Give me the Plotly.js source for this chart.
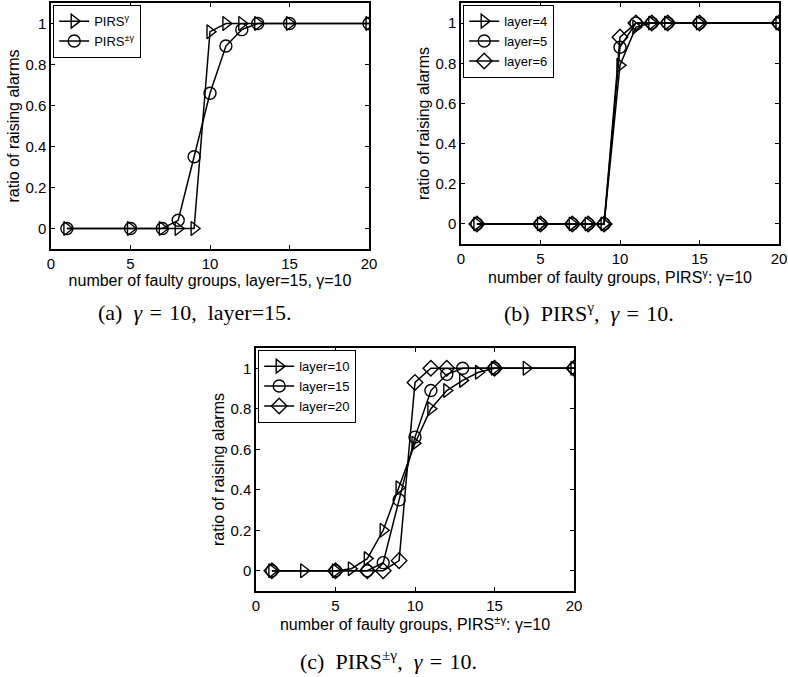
<!DOCTYPE html>
<html>
<head>
<meta charset="utf-8">
<script src="https://cdn.plot.ly/plotly-3.0.1.min.js"></script>
<style>html,body{margin:0;padding:0;background:#fff;}#chart{width:788px;height:677px;}</style>
</head>
<body>
<div id="chart"></div>
<script>
// ---- data ----
const xA = [1, 5, 7, 8, 9, 10, 11, 12, 13, 15, 20];
const aPirsGamma = [0, 0, 0, 0, 0, 0.96, 1, 1, 1, 1, 1];
const aPirsPM = [0, 0, 0, 0.04, 0.35, 0.66, 0.89, 0.97, 1, 1, 1];

const xB = [1, 5, 7, 8, 9, 10, 11, 12, 13, 15, 20];
const bLayer4 = [0, 0, 0, 0, 0, 0.79, 0.98, 1, 1, 1, 1];
const bLayer5 = [0, 0, 0, 0, 0, 0.88, 1, 1, 1, 1, 1];
const bLayer6 = [0, 0, 0, 0, 0, 0.93, 1, 1, 1, 1, 1];

const xC10 = [1, 3, 5, 6, 7, 8, 9, 10, 11, 12, 13, 14, 15, 17, 20];
const cLayer10 = [0, 0, 0, 0.01, 0.06, 0.2, 0.41, 0.63, 0.8, 0.89, 0.94, 0.98, 1, 1, 1];
const xC15 = [1, 5, 7, 8, 9, 10, 11, 12, 13, 15, 20];
const cLayer15 = [0, 0, 0, 0.04, 0.35, 0.66, 0.89, 0.97, 1, 1, 1];
const xC20 = [1, 5, 7, 8, 9, 10, 11, 12, 15, 20];
const cLayer20 = [0, 0, 0, 0, 0.05, 0.93, 1, 1, 1, 1];

const xTicks = [0, 5, 10, 15, 20];
const yTicks = [0, 0.2, 0.4, 0.6, 0.8, 1];

// ---- styling ----
const SANS = 'Liberation Sans';
const SERIF = 'Liberation Serif';
function tr(x, y, name, sym, xa, ya, leg) {
  return {
    x: x, y: y, name: name, type: 'scatter', mode: 'lines+markers',
    xaxis: xa, yaxis: ya, legend: leg,
    line: {color: '#000', width: 1.5},
    marker: {symbol: sym, size: 12, color: '#000', line: {color: '#000', width: 1.4}}
  };
}
const data = [
  tr(xA, aPirsGamma, 'PIRS<sup>γ</sup>', 'triangle-right-open', 'x', 'y', 'legend'),
  tr(xA, aPirsPM, 'PIRS<sup>±γ</sup>', 'circle-open', 'x', 'y', 'legend'),
  tr(xB, bLayer4, 'layer=4', 'triangle-right-open', 'x2', 'y2', 'legend2'),
  tr(xB, bLayer5, 'layer=5', 'circle-open', 'x2', 'y2', 'legend2'),
  tr(xB, bLayer6, 'layer=6', 'diamond-open', 'x2', 'y2', 'legend2'),
  tr(xC10, cLayer10, 'layer=10', 'triangle-right-open', 'x3', 'y3', 'legend3'),
  tr(xC15, cLayer15, 'layer=15', 'circle-open', 'x3', 'y3', 'legend3'),
  tr(xC20, cLayer20, 'layer=20', 'diamond-open', 'x3', 'y3', 'legend3')
];

function xax(domain, anchor, title) {
  return {
    domain: domain, anchor: anchor, range: [0, 20],
    tickvals: xTicks, ticks: 'inside', ticklen: 4, tickcolor: '#000',
    showline: true, mirror: 'ticks', linecolor: '#000', linewidth: 1.6,
    showgrid: false, zeroline: false,
    tickfont: {family: SANS, size: 15, color: '#000'},
    title: {text: title, font: {family: SANS, size: 16, color: '#000'}, standoff: 1}
  };
}
function yax(domain, anchor) {
  return {
    domain: domain, anchor: anchor, range: [-0.1, 1.1],
    tickvals: yTicks, ticks: 'inside', ticklen: 4, tickcolor: '#000',
    showline: true, mirror: 'ticks', linecolor: '#000', linewidth: 1.6,
    showgrid: false, zeroline: false,
    tickfont: {family: SANS, size: 15, color: '#000'},
    title: {text: 'ratio of raising alarms', font: {family: SANS, size: 16, color: '#000'}, standoff: 2}
  };
}
function leg(x, y) {
  return {
    x: x, y: y, xanchor: 'left', yanchor: 'top',
    bgcolor: '#fff', bordercolor: '#000', borderwidth: 1.2,
    font: {family: SANS, size: 13, color: '#000'},
    tracegroupgap: 0, itemwidth: 30
  };
}
function cap(text, x, y) {
  return {text: text, x: x / W, y: 1 - y / H, xref: 'paper', yref: 'paper',
    xanchor: 'center', yanchor: 'middle', showarrow: false,
    font: {family: SERIF, size: 22, color: '#000'}};
}
const H = 677, W = 788;
const layout = {
  width: W, height: H,
  margin: {l: 0, r: 0, t: 0, b: 0},
  paper_bgcolor: '#fff', plot_bgcolor: '#fff',
  showlegend: true,
  xaxis: xax([51 / W, 369 / W], 'y', 'number of faulty groups, layer=15, γ=10'),
  yaxis: yax([1 - 249 / H, 1 - 3 / H], 'x'),
  xaxis2: xax([461 / W, 779 / W], 'y2', 'number of faulty groups, PIRS<sup>γ</sup>: γ=10'),
  yaxis2: yax([1 - 244 / H, 1 - 3 / H], 'x2'),
  xaxis3: xax([256 / W, 574 / W], 'y3', 'number of faulty groups, PIRS<sup>±γ</sup>: γ=10'),
  yaxis3: yax([1 - 591 / H, 1 - 348 / H], 'x3'),
  legend: leg(53 / W, 1 - 5 / H),
  legend2: leg(463 / W, 1 - 5 / H),
  legend3: leg(258 / W, 1 - 350 / H),
  annotations: [
    cap('(a)\u2002<i>γ</i>\u2004=\u200410,\u2002layer=15.', 195, 312),
    cap('(b)\u2002PIRS<sup>γ</sup>,\u2002<i>γ</i>\u2004=\u200410.', 589, 312),
    cap('(c)\u2002PIRS<sup>±γ</sup>,\u2002<i>γ</i>\u2004=\u200410.', 388, 660)
  ]
};
Plotly.newPlot('chart', data, layout, {displayModeBar: false, staticPlot: true});
</script>
</body>
</html>
